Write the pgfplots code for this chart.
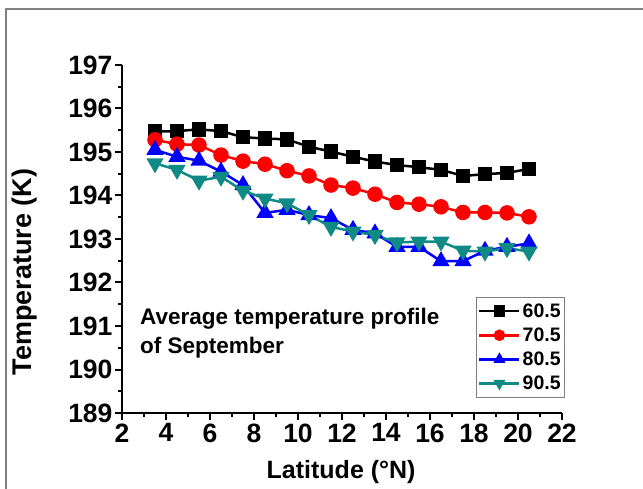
\documentclass[border=0pt]{standalone}
\usepackage{fontspec}
\setmainfont{Liberation Sans}
\usepackage{pgfplots}
\pgfplotsset{compat=1.18}
\definecolor{cteal}{HTML}{108A84}

\begin{document}
\begin{tikzpicture}
\begin{axis}[
  at={(0,0)}, anchor=south west,
  scale only axis, width=440bp, height=348bp,
  xmin=2, xmax=22, ymin=189, ymax=197,
  axis x line*=bottom, axis y line*=left,
  axis line style={-, line width=2.5bp},
  xtick={2,4,...,22}, minor x tick num=1,
  ytick={189,190,...,197}, minor y tick num=1,
  tick align=outside, major tick length=7bp, minor tick length=4bp,
  every tick/.style={black, line width=2bp},
  tick label style={font=\fontsize{26.5bp}{26bp}\selectfont\bfseries},
  yticklabel style={xshift=1bp},
  /pgf/number format/assume math mode=true,
  legend style={at={(0.805,0.333)}, anchor=north west, draw=gray, line width=1bp,
    font=\fontsize{19.5bp}{20bp}\selectfont\bfseries, inner xsep=1.5bp, inner ysep=4bp,
    row sep=5bp, /tikz/every even column/.append style={column sep=1bp}},
  legend cell align=left,
  legend image code/.code={\draw[mark repeat=2,mark phase=2,mark size=4.5bp] plot coordinates {(0bp,0bp) (20bp,0bp) (40bp,0bp)};},
  clip=false,
]
\addplot[black, line width=2.5bp, mark=square*, mark size=6bp] coordinates {
 (3.5,195.47) (4.5,195.48) (5.5,195.52) (6.5,195.48) (7.5,195.34) (8.5,195.31)
 (9.5,195.29) (10.5,195.12) (11.5,195.01) (12.5,194.89) (13.5,194.78) (14.5,194.70)
 (15.5,194.65) (16.5,194.59) (17.5,194.45) (18.5,194.49) (19.5,194.52) (20.5,194.61)};
\addplot[red, line width=2.5bp, mark=*, mark size=6.5bp] coordinates {
 (3.5,195.28) (4.5,195.18) (5.5,195.16) (6.5,194.93) (7.5,194.79) (8.5,194.72)
 (9.5,194.57) (10.5,194.45) (11.5,194.24) (12.5,194.17) (13.5,194.03) (14.5,193.84)
 (15.5,193.80) (16.5,193.74) (17.5,193.61) (18.5,193.61) (19.5,193.60) (20.5,193.51)};
\addplot[blue, line width=2.5bp, mark=triangle*, mark size=7.5bp] coordinates {
 (3.5,195.05) (4.5,194.89) (5.5,194.80) (6.5,194.55) (7.5,194.24) (8.5,193.60)
 (9.5,193.67) (10.5,193.55) (11.5,193.48) (12.5,193.21) (13.5,193.13) (14.5,192.82)
 (15.5,192.82) (16.5,192.49) (17.5,192.49) (18.5,192.73) (19.5,192.82) (20.5,192.90)};
\addplot[cteal, line width=2.5bp, mark=triangle*, mark size=7.5bp, mark options={rotate=180}] coordinates {
 (3.5,194.74) (4.5,194.59) (5.5,194.34) (6.5,194.43) (7.5,194.11) (8.5,193.93)
 (9.5,193.82) (10.5,193.55) (11.5,193.28) (12.5,193.17) (13.5,193.09) (14.5,192.92)
 (15.5,192.94) (16.5,192.94) (17.5,192.73) (18.5,192.71) (19.5,192.79) (20.5,192.71)};
\legend{60.5,70.5,80.5,90.5}
\node[anchor=west, align=left, font=\fontsize{22.5bp}{29bp}\selectfont\bfseries, inner sep=0pt]
  at (axis cs:2.82,190.84) {Average temperature profile\\of September};
\node[rotate=90, font=\fontsize{27bp}{27bp}\selectfont\bfseries]
  at (axis description cs:-0.222,0.405) {Temperature (K)};
\node[font=\fontsize{25bp}{25bp}\selectfont\bfseries]
  at (axis description cs:0.498,-0.17) {Latitude (°N)};
\end{axis}
\draw[gray, line width=1.5bp] (-116bp,-76bp) -- (-116bp,404bp) -- (521bp,404bp);
\pgfresetboundingbox
\useasboundingbox (-122bp,-76bp) rectangle (521bp,413bp);
\end{tikzpicture}
\end{document}
